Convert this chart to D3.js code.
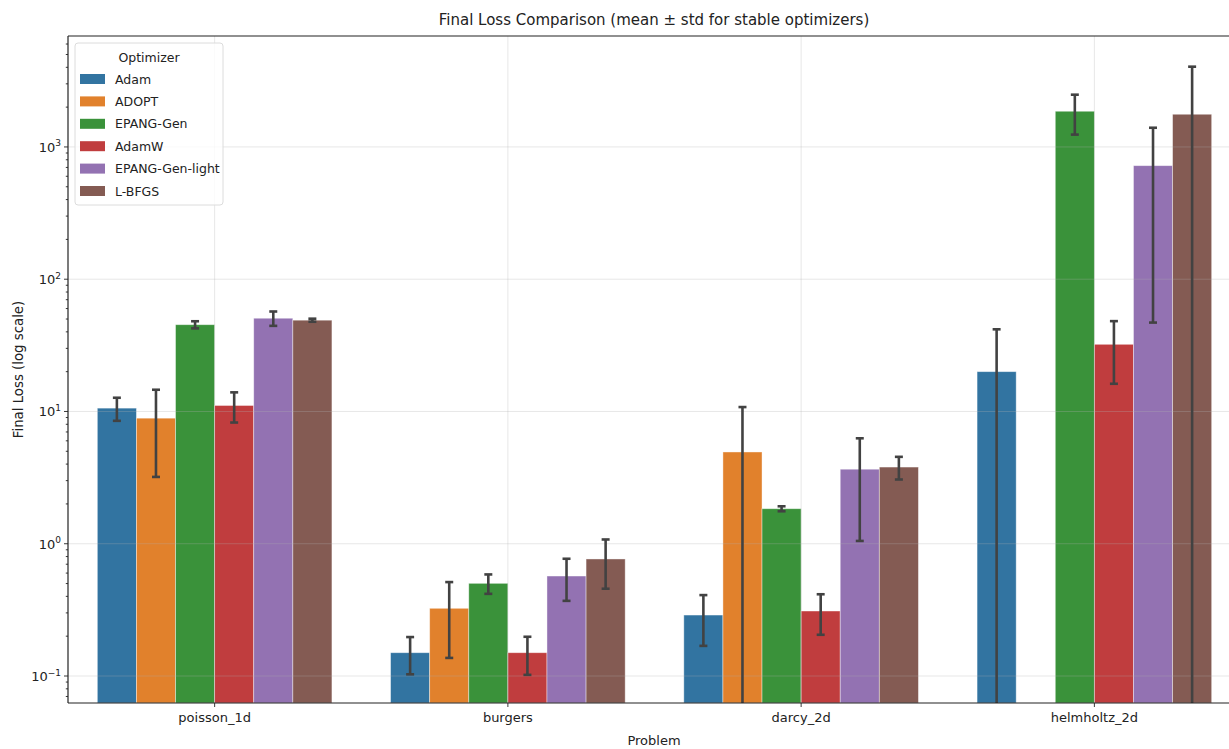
<!DOCTYPE html>
<html lang="en">
<head>
<meta charset="UTF-8">
<title>Final Loss Comparison</title>
<script src="https://d3js.org/d3.v7.min.js"></script>
<style>
    body { margin: 0; background: #fff; }
    svg { display: block; font-family: 'DejaVu Sans', sans-serif; }
</style>
</head>
<body>
<div id="chart"></div>
<script>
// categories and series
const problems = ["poisson_1d", "burgers", "darcy_2d", "helmholtz_2d"];
const optimizers = ["Adam", "ADOPT", "EPANG-Gen", "AdamW", "EPANG-Gen-light", "L-BFGS"];
const colors = ["#3274a1", "#e1812c", "#3a923a", "#c03d3e", "#9372b2", "#845b53"];

// mean final loss per problem (null = no result)
const adamMean   = [10.6, 0.150, 0.289, 20.0];
const adoptMean  = [8.9, 0.325, 4.94, null];
const epangMean  = [45.3, 0.502, 1.84, 1862];
const adamwMean  = [11.1, 0.150, 0.310, 32.2];
const lightMean  = [50.7, 0.570, 3.66, 722];
const lbfgsMean  = [49.0, 0.767, 3.80, 1767];

// std of final loss per problem
const adamStd    = [2.1, 0.047, 0.12, 21.8];
const adoptStd   = [5.7, 0.188, 5.86, null];
const epangStd   = [2.8, 0.084, 0.08, 622];
const adamwStd   = [2.85, 0.048, 0.105, 16.0];
const lightStd   = [6.3, 0.20, 2.61, 675];
const lbfgsStd   = [1.3, 0.31, 0.74, 2278];

const yTicks = [0.1, 1, 10, 100, 1000];
const yExp = ["\u22121", "0", "1", "2", "3"];

const means = [adamMean, adoptMean, epangMean, adamwMean, lightMean, lbfgsMean];
const stds = [adamStd, adoptStd, epangStd, adamwStd, lightStd, lbfgsStd];

const W = 1229, H = 749;
const margin = { left: 68, top: 36, bottom: 46 };
const plotRight = 1241; // axes run past the picture edge

const svg = d3.select("#chart").append("svg")
    .attr("width", W).attr("height", H);

const x = d3.scaleBand()
    .domain(problems)
    .range([margin.left, plotRight])
    .paddingInner(0).paddingOuter(0);

const inner = d3.scaleBand()
    .domain(optimizers)
    .range([x.bandwidth() * 0.1, x.bandwidth() * 0.9]);

const y = d3.scaleLog()
    .domain([0.0625, 6900])
    .range([H - margin.bottom, margin.top]);

const y0 = H - margin.bottom;

// bars
const rows = [];
optimizers.forEach((opt, i) => {
    problems.forEach((p, j) => {
        if (means[i][j] != null) rows.push({ opt, p, i, mean: means[i][j], sd: stds[i][j] });
    });
});

svg.append("g").selectAll("rect")
    .data(rows).join("rect")
    .attr("x", d => x(d.p) + inner(d.opt))
    .attr("width", inner.bandwidth())
    .attr("y", d => y(d.mean))
    .attr("height", d => y0 - y(d.mean))
    .attr("fill", d => colors[d.i])
    .attr("stroke", "#ffffff")
    .attr("stroke-opacity", 0.5)
    .attr("stroke-width", 0.8);

// grid (drawn over bars, semi transparent like matplotlib)
const grid = svg.append("g").attr("stroke", "#b0b0b0").attr("stroke-opacity", 0.3).attr("stroke-width", 1);
yTicks.forEach(t => {
    grid.append("line").attr("x1", margin.left).attr("x2", plotRight)
        .attr("y1", y(t)).attr("y2", y(t));
});
problems.forEach(p => {
    const cx = x(p) + x.bandwidth() / 2;
    grid.append("line").attr("x1", cx).attr("x2", cx)
        .attr("y1", margin.top).attr("y2", y0);
});

// error bars
const err = svg.append("g").attr("stroke", "#424242").attr("stroke-width", 2.6);
rows.forEach(d => {
    const cx = x(d.p) + inner(d.opt) + inner.bandwidth() / 2;
    const hi = d.mean + d.sd;
    const lo = d.mean - d.sd;
    const yHi = y(hi);
    const yLo = lo > 0 ? y(lo) : y0;
    err.append("line").attr("x1", cx).attr("x2", cx).attr("y1", yHi).attr("y2", yLo);
    err.append("line").attr("x1", cx - 4).attr("x2", cx + 4).attr("y1", yHi).attr("y2", yHi);
    if (lo > 0) {
        err.append("line").attr("x1", cx - 4).attr("x2", cx + 4).attr("y1", yLo).attr("y2", yLo);
    }
});

// spines
const spine = svg.append("g").attr("stroke", "#222").attr("stroke-width", 1.2);
spine.append("line").attr("x1", margin.left).attr("x2", margin.left).attr("y1", margin.top).attr("y2", y0);
spine.append("line").attr("x1", margin.left).attr("x2", plotRight).attr("y1", y0).attr("y2", y0);
spine.append("line").attr("x1", margin.left).attr("x2", plotRight).attr("y1", margin.top).attr("y2", margin.top);

// y ticks: major + minor
const [dmin, dmax] = y.domain();
const ticksG = svg.append("g").attr("stroke", "#222").attr("stroke-width", 0.9);
for (let e = -2; e <= 4; e++) {
    for (let m = 1; m <= 9; m++) {
        const v = m * Math.pow(10, e);
        if (v < dmin || v > dmax) continue;
        const len = m === 1 ? 4 : 2.2;
        ticksG.append("line").attr("x1", margin.left - len).attr("x2", margin.left)
            .attr("y1", y(v)).attr("y2", y(v));
    }
}
yTicks.forEach((t, k) => {
    const txt = svg.append("text")
        .attr("x", margin.left - 7).attr("y", y(t) + 5)
        .attr("text-anchor", "end")
        .attr("font-size", 13).attr("fill", "#222");
    txt.append("tspan").text("10");
    txt.append("tspan").attr("dy", -5.5).attr("font-size", 9).text(yExp[k]);
});

// x ticks
problems.forEach(p => {
    const cx = x(p) + x.bandwidth() / 2;
    ticksG.append("line").attr("x1", cx).attr("x2", cx).attr("y1", y0).attr("y2", y0 + 4);
    svg.append("text").attr("x", cx).attr("y", y0 + 19)
        .attr("text-anchor", "middle").attr("font-size", 13).attr("fill", "#222").text(p);
});

// labels
svg.append("text").attr("x", 654).attr("y", 25).attr("text-anchor", "middle")
    .attr("font-size", 15).attr("fill", "#222")
    .text("Final Loss Comparison (mean \u00b1 std for stable optimizers)");
svg.append("text").attr("x", 654).attr("y", 745).attr("text-anchor", "middle")
    .attr("font-size", 13).attr("fill", "#222").text("Problem");
svg.append("text").attr("transform", "translate(23," + ((margin.top + y0) / 2) + ") rotate(-90)")
    .attr("text-anchor", "middle").attr("font-size", 13.3).attr("fill", "#222")
    .text("Final Loss (log scale)");

// legend
const lg = svg.append("g").attr("transform", "translate(75,43)");
lg.append("rect").attr("width", 148).attr("height", 162).attr("rx", 3)
    .attr("fill", "#fff").attr("fill-opacity", 0.8)
    .attr("stroke", "#dcdcdc").attr("stroke-width", 1);
lg.append("text").attr("x", 74).attr("y", 19).attr("text-anchor", "middle")
    .attr("font-size", 12.5).attr("fill", "#222").text("Optimizer");
optimizers.forEach((opt, i) => {
    const ly = 36 + i * 22.4;
    lg.append("rect").attr("x", 5).attr("y", ly - 5).attr("width", 25).attr("height", 10)
        .attr("fill", colors[i]);
    lg.append("text").attr("x", 40).attr("y", ly + 4.5)
        .attr("font-size", 12.5).attr("fill", "#222").text(opt);
});
</script>
</body>
</html>
